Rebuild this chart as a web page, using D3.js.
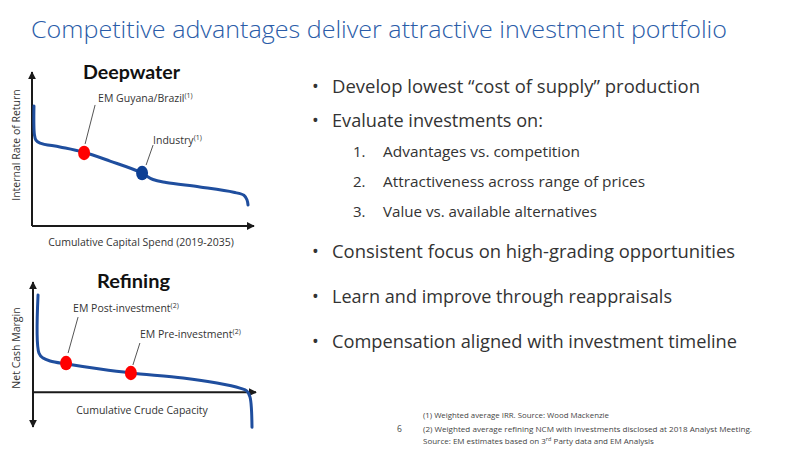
<!DOCTYPE html>
<html><head><meta charset="utf-8">
<script src="https://cdn.jsdelivr.net/npm/d3@7/dist/d3.min.js"></script>
<style>
body{margin:0;background:#fff;}
svg{display:block;font-family:"Open Sans","Noto Sans",sans-serif;}
</style></head>
<body><svg id="c" width="800" height="450"></svg>
<script>
// ---- data ----
const titleText = "Competitive advantages deliver attractive investment portfolio";

// Deepwater IRR supply curve (x: cumulative capex share 0-100, y: IRR index)
const deepX = [0.9, 1.1, 1.8, 3.7, 12.8, 23.4, 35.8, 49.5, 55.5, 61.5, 77, 92.5, 97.2, 98.6, 99.1];
const deepY = [80, 61, 57.3, 55.3, 52.7, 49.3, 43.3, 36, 31, 29, 26, 22.5, 20.5, 17.5, 14];
const deepMarkerNames = ["EM Guyana/Brazil", "Industry"];
const deepMarkerX = [23.9, 50.5];
const deepMarkerY = [48.7, 35.3];
const deepMarkerNotes = ["(1)", "(1)"];

// Refining net cash margin curve (x: cumulative crude capacity 0-100, y: NCM index)
const refX = [2.3, 2.7, 4.6, 7.8, 15.5, 30.6, 44.7, 68.5, 84, 94.5, 97.7, 99.1, 100];
const refY = [89, 36, 31.3, 28.6, 25.8, 21.2, 17.6, 13, 8.4, 3.8, 1.1, -4.4, -32];
const refMarkerNames = ["EM Post-investment", "EM Pre-investment"];
const refMarkerX = [15.1, 44.7];
const refMarkerY = [26.7, 17.6];
const refMarkerNotes = ["(2)", "(2)"];

const bullets = ["Develop lowest \u201ccost of supply\u201d production", "Evaluate investments on:"];
const subItems = ["Advantages vs. competition", "Attractiveness across range of prices", "Value vs. available alternatives"];
const bullets2 = ["Consistent focus on high-grading opportunities", "Learn and improve through reappraisals", "Compensation aligned with investment timeline"];
const footnotes = ["(1) Weighted average IRR. Source: Wood Mackenzie",
  "(2) Weighted average refining NCM with investments disclosed at 2018 Analyst Meeting."];
const pageNumber = "6";

// ---- drawing ----
const svg = d3.select("#c");
const blue = "#1f4e9e", red = "#ff0000", text = "#333333", axisCol = "#1a1a1a";

svg.append("text").attr("x", 31).attr("y", 38).attr("font-size", 23.5).attr("font-weight", 300)
  .attr("fill", "#2a5ca8").attr("textLength", 696).attr("lengthAdjust", "spacingAndGlyphs").text(titleText);

const defs = svg.append("defs");
defs.append("marker").attr("id", "arr").attr("viewBox", "0 0 10 10").attr("refX", 9).attr("refY", 5)
  .attr("markerWidth", 4).attr("markerHeight", 4).attr("orient", "auto-start-reverse")
  .append("path").attr("d", "M0,0L10,5L0,10Z").attr("fill", axisCol);

function panel(cfg) {
  const g = svg.append("g");
  const x = d3.scaleLinear().domain([0, 100]).range(cfg.xr);
  const y = d3.scaleLinear().domain(cfg.yd).range(cfg.yr);
  // axes
  const x0 = x(0), y0 = y(0), xEnd = cfg.xAxisEnd;
  g.append("line").attr("x1", x0).attr("x2", xEnd).attr("y1", y0).attr("y2", y0)
    .attr("stroke", axisCol).attr("stroke-width", 2).attr("marker-end", "url(#arr)");
  const yl = g.append("line").attr("x1", x0).attr("x2", x0).attr("y1", cfg.yBottom).attr("y2", cfg.yTop)
    .attr("stroke", axisCol).attr("stroke-width", 2).attr("marker-end", "url(#arr)");
  if (cfg.bothArrows) yl.attr("marker-start", "url(#arr)");
  // title
  g.append("text").attr("x", cfg.titleX).attr("y", cfg.titleY).attr("text-anchor", "middle")
    .attr("font-size", 18.5).attr("font-weight", 700).attr("fill", "#111").attr("font-family", "Lato, sans-serif")
    .attr("textLength", cfg.titleW).attr("lengthAdjust", "spacingAndGlyphs")
    .text(cfg.title);
  // axis labels
  g.append("text").attr("transform", `translate(${cfg.yLabX},${cfg.yLabY}) rotate(-90)`).attr("text-anchor", "middle")
    .attr("font-size", 10.5).attr("fill", text).text(cfg.yLabel);
  g.append("text").attr("x", cfg.xLabX).attr("y", cfg.xLabY).attr("text-anchor", "middle")
    .attr("font-size", 10.5).attr("fill", text).text(cfg.xLabel);
  // curve
  const pts = cfg.cx.map((v, i) => [v, cfg.cy[i]]);
  g.append("path").datum(pts).attr("fill", "none").attr("stroke", blue).attr("stroke-width", 3)
    .attr("stroke-linecap", "round")
    .attr("d", d3.line().x(d => x(d[0])).y(d => y(d[1])).curve(d3.curveCatmullRom.alpha(0.5)));
  // leader lines + labels + markers
  cfg.mx.forEach((mv, i) => {
    const px = x(mv), py = y(cfg.my[i]);
    const lab = cfg.labels[i];
    g.append("line").attr("x1", px + lab.lx1).attr("y1", py + lab.ly1).attr("x2", px + lab.lx2).attr("y2", py + lab.ly2)
      .attr("stroke", "#555").attr("stroke-width", 1);
    const t = g.append("text").attr("x", px + lab.tx).attr("y", py + lab.ty).attr("font-size", 10.5).attr("fill", text);
    t.append("tspan").text(cfg.names[i]);
    t.append("tspan").attr("font-size", 7).attr("dy", -4).text(cfg.notes[i]);
    g.append("ellipse").attr("cx", px).attr("cy", py).attr("rx", 6).attr("ry", 7.2)
      .attr("fill", cfg.colors[i]);
  });
}

panel({
  xr: [32, 250], yd: [0, 100], yr: [226, 76], xAxisEnd: 254, yTop: 72, yBottom: 226, bothArrows: false,
  title: "Deepwater", titleX: 131.5, titleY: 79, titleW: 97,
  yLabel: "Internal Rate of Return", yLabX: 20, yLabY: 145,
  xLabel: "Cumulative Capital Spend (2019-2035)", xLabX: 141, xLabY: 246,
  cx: deepX, cy: deepY, mx: deepMarkerX, my: deepMarkerY, names: deepMarkerNames, notes: deepMarkerNotes,
  colors: [red, "#0d3f94"],
  labels: [{lx1: 1, ly1: -9, lx2: 11, ly2: -48, tx: 14, ty: -51}, {lx1: 4, ly1: -8, lx2: 11, ly2: -28, tx: 11, ty: -29}]
});

panel({
  xr: [33, 252], yd: [-30, 100], yr: [425, 283], xAxisEnd: 256, yTop: 282, yBottom: 427, bothArrows: true,
  title: "Refining", titleX: 133.5, titleY: 288, titleW: 73,
  yLabel: "Net Cash Margin", yLabX: 20, yLabY: 348,
  xLabel: "Cumulative Crude Capacity", xLabX: 142, xLabY: 414,
  cx: refX, cy: refY, mx: refMarkerX, my: refMarkerY, names: refMarkerNames, notes: refMarkerNotes,
  colors: [red, red],
  labels: [{lx1: 2, ly1: -10, lx2: 12, ly2: -46, tx: 7, ty: -51}, {lx1: 2, ly1: -8, lx2: 9, ly2: -30, tx: 9, ty: -35}]
});

// bullets
const bulletY = [93, 127], bulletW = [368, 211];
bullets.forEach((b, i) => {
  svg.append("text").attr("x", 312).attr("y", bulletY[i]).attr("font-size", 18).attr("fill", text).text("\u2022");
  svg.append("text").attr("x", 332).attr("y", bulletY[i]).attr("font-size", 18.5).attr("fill", text)
    .attr("textLength", bulletW[i]).attr("lengthAdjust", "spacingAndGlyphs").text(b);
});
const subY = [157, 187, 217], subW = [197, 262, 214];
subItems.forEach((s, i) => {
  svg.append("text").attr("x", 353).attr("y", subY[i]).attr("font-size", 15).attr("fill", text).text((i + 1) + ".");
  svg.append("text").attr("x", 383).attr("y", subY[i]).attr("font-size", 15).attr("fill", text)
    .attr("textLength", subW[i]).attr("lengthAdjust", "spacingAndGlyphs").text(s);
});
const b2Y = [258, 303, 348], b2W = [403, 340, 405];
bullets2.forEach((b, i) => {
  svg.append("text").attr("x", 312).attr("y", b2Y[i]).attr("font-size", 18).attr("fill", text).text("\u2022");
  svg.append("text").attr("x", 332).attr("y", b2Y[i]).attr("font-size", 18.5).attr("fill", text)
    .attr("textLength", b2W[i]).attr("lengthAdjust", "spacingAndGlyphs").text(b);
});

// footnotes
const fnY = [418, 432], fnW = [186, 329];
footnotes.forEach((f, i) => {
  svg.append("text").attr("x", 423).attr("y", fnY[i]).attr("font-size", 8).attr("fill", "#444")
    .attr("textLength", fnW[i]).attr("lengthAdjust", "spacingAndGlyphs").text(f);
});
const src = svg.append("text").attr("x", 423).attr("y", 444).attr("font-size", 8).attr("fill", "#444");
src.append("tspan").text("Source: EM estimates based on 3");
src.append("tspan").attr("font-size", 5.5).attr("dy", -3).text("rd");
src.append("tspan").attr("dy", 3).text(" Party data and EM Analysis");
svg.append("text").attr("x", 397).attr("y", 432).attr("font-size", 8.5).attr("fill", "#444").text(pageNumber);
</script></body></html>
